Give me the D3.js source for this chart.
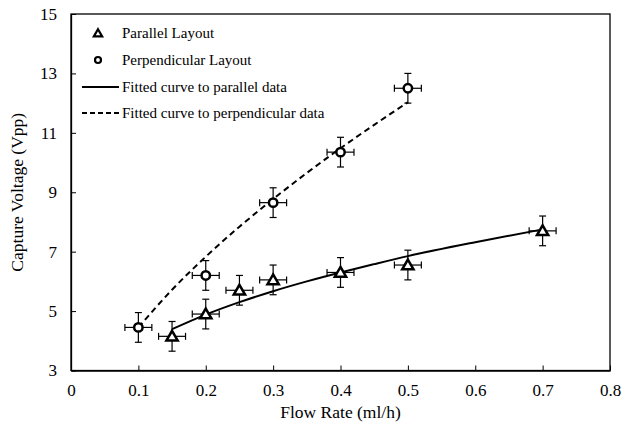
<!DOCTYPE html>
<html>
<head>
<meta charset="utf-8">
<script src="https://cdn.jsdelivr.net/npm/d3@7"></script>
<style>
  body { margin: 0; background: #fff; }
  text { font-family: "Liberation Serif", "Times New Roman", serif; fill: #000; }
</style>
</head>
<body>
<svg width="623" height="423"></svg>
<script>
// measured points
var parallelX = [0.15, 0.2, 0.25, 0.3, 0.4, 0.5, 0.7];
var parallelY = [4.15, 4.9, 5.7, 6.05, 6.3, 6.55, 7.7];
var perpX = [0.1, 0.2, 0.3, 0.4, 0.5];
var perpY = [4.45, 6.2, 8.65, 10.35, 12.5];

// error bar half widths
var xErr = 0.02;
var yErr = 0.5;

// fitted curves
var fitParX = [0.15, 0.2, 0.25, 0.3, 0.35, 0.4, 0.45, 0.5, 0.6, 0.7];
var fitParY = [4.39, 4.88, 5.30, 5.67, 6.00, 6.30, 6.58, 6.85, 7.32, 7.75];
var fitPerpX = [0.1, 0.15, 0.2, 0.25, 0.3, 0.35, 0.4, 0.45, 0.5];
var fitPerpY = [4.45, 5.72, 6.83, 7.84, 8.77, 9.65, 10.48, 11.27, 12.03];

var xTicks = [0, 0.1, 0.2, 0.3, 0.4, 0.5, 0.6, 0.7, 0.8];
var yTicks = [3, 5, 7, 9, 11, 13, 15];

var legendLabels = ["Parallel Layout", "Perpendicular Layout",
                    "Fitted curve to parallel data", "Fitted curve to perpendicular data"];

function drawChart() {
    var svg = d3.select("svg");
    var mLeft = 71, mRight = 610, mTop = 14, mBottom = 370.5;

    var x = d3.scaleLinear().domain([0, 0.8]).range([mLeft, mRight]);
    var y = d3.scaleLinear().domain([3, 15]).range([mBottom, mTop]);

    // frame
    svg.append("rect")
        .attr("x", mLeft).attr("y", mTop)
        .attr("width", mRight - mLeft).attr("height", mBottom - mTop)
        .attr("fill", "none").attr("stroke", "#000").attr("stroke-width", 1.3);

    // axes, ticks pointing inward
    var xAxis = svg.append("g")
        .attr("transform", "translate(0," + mBottom + ")")
        .call(d3.axisBottom(x).tickValues(xTicks).tickSizeInner(-5).tickSizeOuter(0)
            .tickPadding(13).tickFormat(function(d) { return d === 0 ? "0" : d3.format(".1f")(d); }));
    xAxis.select(".domain").attr("stroke-width", 1.3);
    xAxis.selectAll("text").style("font-size", "17px");

    var yAxis = svg.append("g")
        .attr("transform", "translate(" + mLeft + ",0)")
        .call(d3.axisLeft(y).tickValues(yTicks).tickSizeInner(-5).tickSizeOuter(0).tickPadding(14));
    yAxis.select(".domain").attr("stroke-width", 1.3);
    yAxis.selectAll("text").style("font-size", "17px");

    svg.append("text")
        .attr("x", (mLeft + mRight) / 2).attr("y", 418)
        .attr("text-anchor", "middle")
        .style("font-size", "17.5px")
        .text("Flow Rate (ml/h)");

    svg.append("text")
        .attr("transform", "translate(23," + (mTop + mBottom) / 2 + ") rotate(-90)")
        .attr("text-anchor", "middle")
        .style("font-size", "17.5px")
        .text("Capture Voltage (Vpp)");

    // fitted curves
    var line = d3.line()
        .x(function(d) { return x(d[0]); })
        .y(function(d) { return y(d[1]); })
        .curve(d3.curveMonotoneX);

    svg.append("path")
        .datum(d3.zip(fitParX, fitParY))
        .attr("d", line)
        .attr("fill", "none").attr("stroke", "#000").attr("stroke-width", 2);

    svg.append("path")
        .datum(d3.zip(fitPerpX, fitPerpY))
        .attr("d", line)
        .attr("fill", "none").attr("stroke", "#000").attr("stroke-width", 2)
        .attr("stroke-dasharray", "6,4");

    // error bars
    function errorBars(xs, ys) {
        var g = svg.append("g").attr("stroke", "#000").attr("stroke-width", 1.2);
        var cap = 3.5;
        d3.zip(xs, ys).forEach(function(p) {
            var cx = x(p[0]), cy = y(p[1]);
            var x0 = x(p[0] - xErr), x1 = x(p[0] + xErr);
            var y0 = y(p[1] - yErr), y1 = y(p[1] + yErr);
            g.append("line").attr("x1", x0).attr("x2", x1).attr("y1", cy).attr("y2", cy);
            g.append("line").attr("x1", x0).attr("x2", x0).attr("y1", cy - cap).attr("y2", cy + cap);
            g.append("line").attr("x1", x1).attr("x2", x1).attr("y1", cy - cap).attr("y2", cy + cap);
            g.append("line").attr("x1", cx).attr("x2", cx).attr("y1", y0).attr("y2", y1);
            g.append("line").attr("x1", cx - cap).attr("x2", cx + cap).attr("y1", y0).attr("y2", y0);
            g.append("line").attr("x1", cx - cap).attr("x2", cx + cap).attr("y1", y1).attr("y2", y1);
        });
    }
    errorBars(parallelX, parallelY);
    errorBars(perpX, perpY);

    // markers
    var tri = d3.symbol().type(d3.symbolTriangle).size(55);

    svg.append("g").selectAll("path")
        .data(d3.zip(parallelX, parallelY))
        .enter().append("path")
        .attr("d", tri)
        .attr("transform", function(d) { return "translate(" + x(d[0]) + "," + (y(d[1]) + 1) + ")"; })
        .attr("fill", "#fff").attr("stroke", "#000").attr("stroke-width", 2.5);

    svg.append("g").selectAll("circle")
        .data(d3.zip(perpX, perpY))
        .enter().append("circle")
        .attr("cx", function(d) { return x(d[0]); })
        .attr("cy", function(d) { return y(d[1]); })
        .attr("r", 4.2)
        .attr("fill", "#fff").attr("stroke", "#000").attr("stroke-width", 2.5);

    // legend
    var lg = svg.append("g");
    var rowY = [33, 60, 87, 113];
    lg.append("path").attr("d", d3.symbol().type(d3.symbolTriangle).size(30))
        .attr("transform", "translate(98," + (rowY[0] + 1) + ")")
        .attr("fill", "#fff").attr("stroke", "#000").attr("stroke-width", 2.2);
    lg.append("circle").attr("cx", 98).attr("cy", rowY[1]).attr("r", 3)
        .attr("fill", "#fff").attr("stroke", "#000").attr("stroke-width", 2.2);
    lg.append("line").attr("x1", 82).attr("x2", 119).attr("y1", rowY[2]).attr("y2", rowY[2])
        .attr("stroke", "#000").attr("stroke-width", 2);
    lg.append("line").attr("x1", 82).attr("x2", 119).attr("y1", rowY[3]).attr("y2", rowY[3])
        .attr("stroke", "#000").attr("stroke-width", 2).attr("stroke-dasharray", "5,3");
    lg.selectAll("text")
        .data(legendLabels)
        .enter().append("text")
        .attr("x", 122)
        .attr("y", function(d, i) { return rowY[i]; })
        .attr("dy", "0.35em")
        .style("font-size", "15px")
        .text(function(d) { return d; });
}

drawChart();
</script>
</body>
</html>
